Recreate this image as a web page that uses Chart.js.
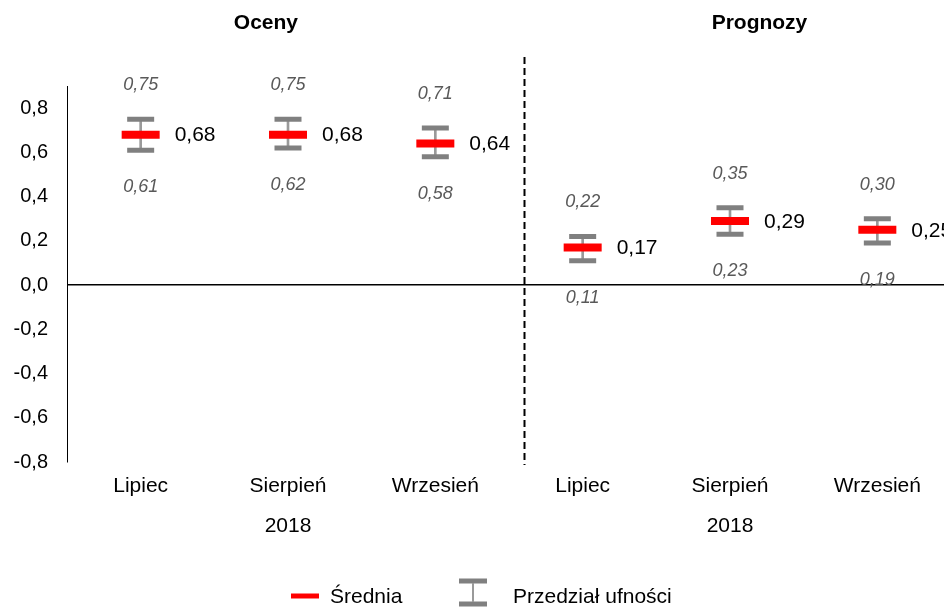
<!DOCTYPE html>
<html>
<head>
<meta charset="utf-8">
<script src="https://cdn.jsdelivr.net/npm/chart.js@4/dist/chart.umd.min.js"></script>
<style>
  html, body { margin: 0; padding: 0; background: #fff; overflow: hidden; }
  canvas { display: block; }
</style>
</head>
<body>
<canvas id="chart" width="951" height="607"></canvas>
<script>
// --- data ---
const months = ['Lipiec', 'Sierpień', 'Wrzesień', 'Lipiec', 'Sierpień', 'Wrzesień'];
const year = '2018';
const groupTitles = ['Oceny', 'Prognozy'];
const meanValues = [0.68, 0.68, 0.64, 0.17, 0.29, 0.25];
const lowerValues = [0.61, 0.62, 0.58, 0.11, 0.23, 0.19];
const upperValues = [0.75, 0.75, 0.71, 0.22, 0.35, 0.30];
const yTicks = [-0.8, -0.6, -0.4, -0.2, 0, 0.2, 0.4, 0.6, 0.8];
const legendLabels = ['Średnia', 'Przedział ufności'];

const FONT = '"Liberation Sans", Arial, sans-serif';
const RED = '#ff0000';
const CAP = '#808080';
const STEM = '#9a9a9a';

const fmt1 = v => v.toFixed(1).replace('.', ',');
const fmt2 = v => v.toFixed(2).replace('.', ',');

// month labels, year under the middle month of each group
const xLabels = months.map((m, i) => (i % 3 === 1 ? [m, year] : m));

// labels, separator, titles and legend
const annotations = {
    id: 'annotations',
    afterDatasetsDraw(chart) {
        const { ctx, scales: { x, y } } = chart;
        ctx.save();

        // value labels
        meanValues.forEach((m, i) => {
            const px = x.getPixelForValue(i);
            ctx.textBaseline = 'middle';
            ctx.font = 'italic 18px ' + FONT;
            ctx.fillStyle = '#595959';
            ctx.textAlign = 'center';
            ctx.fillText(fmt2(upperValues[i]), px, y.getPixelForValue(upperValues[i]) - 34);
            ctx.fillText(fmt2(lowerValues[i]), px, y.getPixelForValue(lowerValues[i]) + 37);

            ctx.font = '21px ' + FONT;
            ctx.fillStyle = '#000';
            ctx.textAlign = 'left';
            ctx.fillText(fmt2(m), px + 34, y.getPixelForValue(m) + 1);
        });

        // dashed separator between estimates and forecasts
        const sx = Math.round(x.getPixelForValue(2.6)) + 0.5;
        ctx.beginPath();
        ctx.setLineDash([7, 4]);
        ctx.lineWidth = 2;
        ctx.strokeStyle = '#000';
        ctx.moveTo(sx, 57);
        ctx.lineTo(sx, 465);
        ctx.stroke();
        ctx.setLineDash([]);

        // group titles
        ctx.font = 'bold 21px ' + FONT;
        ctx.fillStyle = '#000';
        ctx.textAlign = 'center';
        ctx.textBaseline = 'middle';
        ctx.fillText(groupTitles[0], x.getPixelForValue(0.85), 23);
        ctx.fillText(groupTitles[1], x.getPixelForValue(4.2), 23);

        // legend
        const ly = 596;
        ctx.lineWidth = 5;
        ctx.strokeStyle = RED;
        ctx.beginPath();
        ctx.moveTo(291, ly);
        ctx.lineTo(319, ly);
        ctx.stroke();

        ctx.strokeStyle = CAP;
        ctx.beginPath();
        ctx.moveTo(459, 581);
        ctx.lineTo(487, 581);
        ctx.moveTo(459, 604);
        ctx.lineTo(487, 604);
        ctx.stroke();
        ctx.lineWidth = 2;
        ctx.strokeStyle = STEM;
        ctx.beginPath();
        ctx.moveTo(473, 583);
        ctx.lineTo(473, 602);
        ctx.stroke();

        ctx.font = '21px ' + FONT;
        ctx.fillStyle = '#000';
        ctx.textAlign = 'left';
        ctx.fillText(legendLabels[0], 330, ly + 1);
        ctx.fillText(legendLabels[1], 513, ly + 1);

        ctx.restore();
    }
};

const capPoint = {
    type: 'line',
    showLine: false,
    pointStyle: 'line',
    pointRadius: 13.5,
    pointHoverRadius: 13.5,
    pointBorderWidth: 5,
    pointBorderColor: CAP,
    order: 1
};

new Chart(document.getElementById('chart'), {
    type: 'bar',
    data: {
        labels: xLabels,
        datasets: [
            {
                // whisker
                data: lowerValues.map((l, i) => [l, upperValues[i]]),
                backgroundColor: STEM,
                barThickness: 2,
                order: 2
            },
            Object.assign({ data: upperValues }, capPoint),
            Object.assign({ data: lowerValues }, capPoint),
            {
                type: 'line',
                data: meanValues,
                showLine: false,
                pointStyle: 'line',
                pointRadius: 19,
                pointHoverRadius: 19,
                pointBorderWidth: 8,
                pointBorderColor: RED,
                order: 0
            }
        ]
    },
    options: {
        responsive: false,
        animation: false,
        events: [],
        layout: { autoPadding: false, padding: { top: 86, left: 0, right: 0, bottom: 0 } },
        plugins: { legend: { display: false }, tooltip: { enabled: false } },
        scales: {
            x: {
                offset: true,
                grid: { display: false, drawTicks: false },
                border: { display: false },
                ticks: {
                    color: '#000',
                    font: { family: FONT, size: 21, lineHeight: '40px' },
                    padding: 4,
                    maxRotation: 0,
                    autoSkip: false
                },
                afterFit: s => {
                    s.height = 145;
                    s.paddingLeft = 0;
                    s.paddingRight = 0;
                }
            },
            y: {
                min: -0.8,
                max: 0.9,
                afterBuildTicks: s => { s.ticks = yTicks.map(v => ({ value: v })); },
                afterFit: s => {
                    s.width = 67;
                    s.paddingTop = 0;
                    s.paddingBottom = 0;
                },
                grid: {
                    drawTicks: false,
                    color: c => (c.tick && c.tick.value === 0 ? '#000' : 'rgba(0,0,0,0)'),
                    lineWidth: 1.5
                },
                border: { display: true, color: '#000', width: 1 },
                ticks: {
                    color: '#000',
                    font: { family: FONT, size: 20 },
                    padding: 19,
                    callback: v => fmt1(v)
                }
            }
        }
    },
    plugins: [annotations]
});
</script>
</body>
</html>
